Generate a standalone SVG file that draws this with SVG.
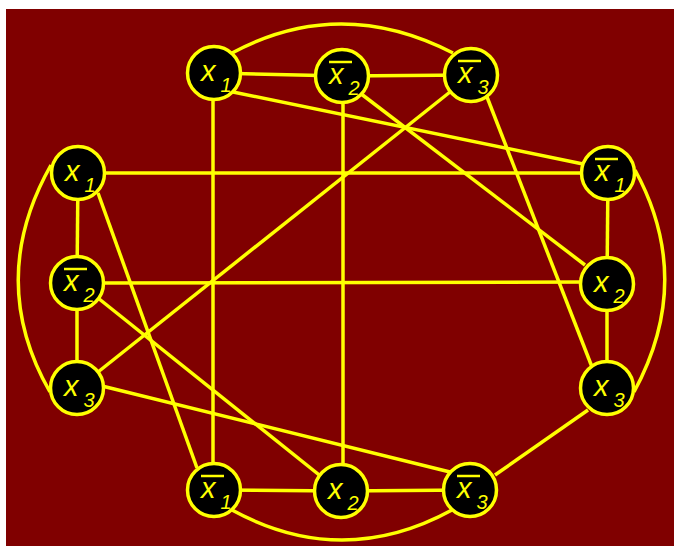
<svg xmlns="http://www.w3.org/2000/svg" width="674" height="546" viewBox="0 0 674 546">
<style>
.bg{fill:#800000}
.e{stroke:#ffff00;stroke-width:3.5;fill:none}
.n circle{fill:#000000;stroke:#ffff00;stroke-width:3.5}
.n text{fill:#ffff00;font-family:"Liberation Sans",Arial,sans-serif;font-style:italic;font-size:29px}
.n .s{font-size:20px}
.n line{stroke:#ffff00;stroke-width:2.5}
</style>
<rect class="bg" x="6" y="9" width="668" height="537"/>
<g id="connectors">
<line class="e" x1="214" y1="73" x2="342" y2="76"/>
<line class="e" x1="342" y1="76" x2="471" y2="75"/>
<path class="e" d="M232,53 Q340,-5 453,53"/>
<line class="e" x1="78" y1="173" x2="77" y2="283"/>
<line class="e" x1="77" y1="283" x2="77" y2="388"/>
<path class="e" d="M51,165 Q-14,280 50,392"/>
<line class="e" x1="608" y1="173" x2="607" y2="284"/>
<line class="e" x1="607" y1="284" x2="607" y2="388"/>
<path class="e" d="M635,170 Q695,280 634,392"/>
<line class="e" x1="214" y1="490" x2="341" y2="491"/>
<line class="e" x1="341" y1="491" x2="470" y2="490"/>
<path class="e" d="M232,510 Q342,570 452,510"/>
<line class="e" x1="213" y1="90" x2="213" y2="470"/>
<line class="e" x1="343" y1="95" x2="343" y2="472"/>
<line class="e" x1="233" y1="92" x2="583" y2="164"/>
<line class="e" x1="100" y1="173" x2="585" y2="173"/>
<line class="e" x1="98" y1="193" x2="197" y2="468"/>
<line class="e" x1="98" y1="298" x2="323" y2="478"/>
<line class="e" x1="100" y1="283" x2="585" y2="282"/>
<line class="e" x1="98" y1="372" x2="450" y2="92"/>
<line class="e" x1="102" y1="386" x2="450" y2="472"/>
<line class="e" x1="360" y1="93" x2="585" y2="265"/>
<line class="e" x1="487" y1="97" x2="592" y2="367"/>
<line class="e" x1="588" y1="410" x2="495" y2="475"/>
</g>
<g id="t1" class="n"><circle cx="214" cy="73" r="26.5"/><text x="201" y="81">x<tspan class="s" dx="5" dy="11">1</tspan></text></g>
<g id="t2" class="n"><circle cx="342" cy="76" r="26.5"/><line x1="329" y1="62" x2="352" y2="62"/><text x="329" y="84">x<tspan class="s" dx="5" dy="11">2</tspan></text></g>
<g id="t3" class="n"><circle cx="471" cy="75" r="26.5"/><line x1="458" y1="61" x2="481" y2="61"/><text x="458" y="83">x<tspan class="s" dx="5" dy="11">3</tspan></text></g>
<g id="l1" class="n"><circle cx="78" cy="173" r="26.5"/><text x="65" y="181">x<tspan class="s" dx="5" dy="11">1</tspan></text></g>
<g id="l2" class="n"><circle cx="77" cy="283" r="26.5"/><line x1="64" y1="269" x2="87" y2="269"/><text x="64" y="291">x<tspan class="s" dx="5" dy="11">2</tspan></text></g>
<g id="l3" class="n"><circle cx="77" cy="388" r="26.5"/><text x="64" y="396">x<tspan class="s" dx="5" dy="11">3</tspan></text></g>
<g id="r1" class="n"><circle cx="608" cy="173" r="26.5"/><line x1="595" y1="159" x2="618" y2="159"/><text x="595" y="181">x<tspan class="s" dx="5" dy="11">1</tspan></text></g>
<g id="r2" class="n"><circle cx="607" cy="284" r="26.5"/><text x="594" y="292">x<tspan class="s" dx="5" dy="11">2</tspan></text></g>
<g id="r3" class="n"><circle cx="607" cy="388" r="26.5"/><text x="594" y="396">x<tspan class="s" dx="5" dy="11">3</tspan></text></g>
<g id="b1" class="n"><circle cx="214" cy="490" r="26.5"/><line x1="201" y1="476" x2="224" y2="476"/><text x="201" y="498">x<tspan class="s" dx="5" dy="11">1</tspan></text></g>
<g id="b2" class="n"><circle cx="341" cy="491" r="26.5"/><text x="328" y="499">x<tspan class="s" dx="5" dy="11">2</tspan></text></g>
<g id="b3" class="n"><circle cx="470" cy="490" r="26.5"/><line x1="457" y1="476" x2="480" y2="476"/><text x="457" y="498">x<tspan class="s" dx="5" dy="11">3</tspan></text></g>
</svg>
